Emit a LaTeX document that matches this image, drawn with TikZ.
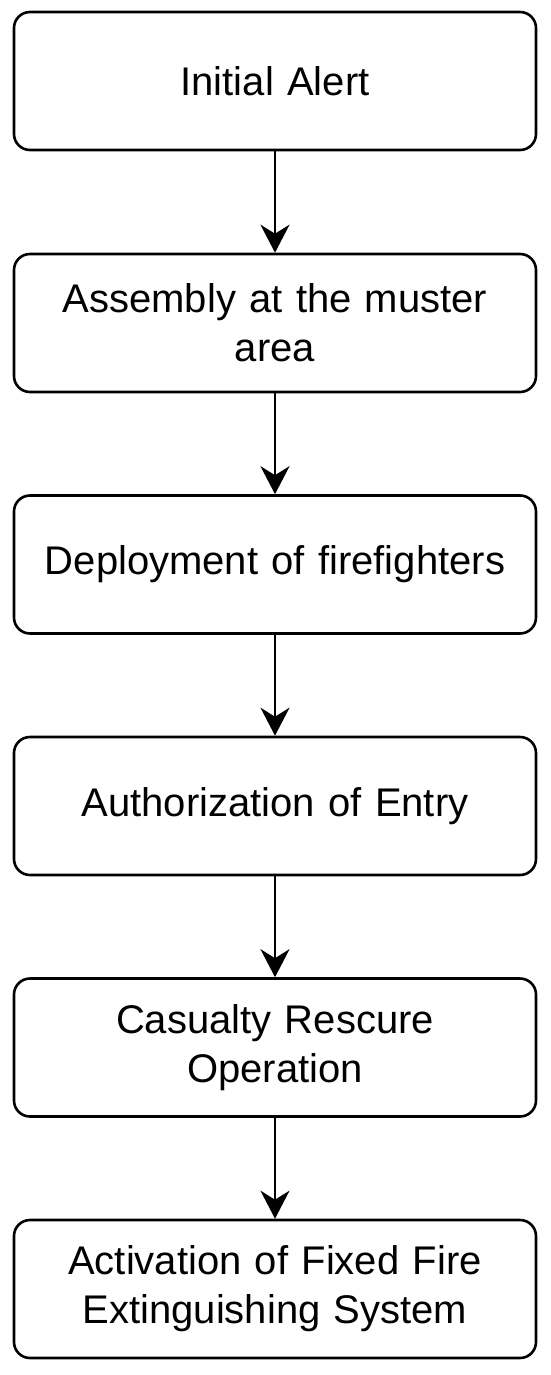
\documentclass[tikz,border=0pt]{standalone}
\usepackage{fontspec}
\setmainfont{Liberation Sans}
\usetikzlibrary{arrows.meta}
\begin{document}
\begin{tikzpicture}[x=1pt,y=-1pt,
  stepbox/.style={draw, line width=2.6pt, rounded corners=16pt, minimum width=522pt, minimum height=138pt, inner sep=0pt, align=center, text width=510pt, font=\fontsize{40}{49}\selectfont},
  flow/.style={line width=2.6pt, -{Stealth[length=28pt,width=29pt,inset=9pt]}}]
\useasboundingbox (0,0) rectangle (550,1375);
\node[stepbox] (a) at (275,81) {Initial Alert};
\node[stepbox] (b) at (275,323) {Assembly at the muster\\area};
\node[stepbox] (c) at (275,564.5) {Deployment of firefighters};
\node[stepbox] (d) at (275,806) {Authorization of Entry};
\node[stepbox] (e) at (275,1047.5) {Casualty Rescure\\Operation};
\node[stepbox] (f) at (275,1289) {Activation of Fixed Fire\\Extinguishing System};
\draw[flow] (a) -- (b);
\draw[flow] (b) -- (c);
\draw[flow] (c) -- (d);
\draw[flow] (d) -- (e);
\draw[flow] (e) -- (f);
\end{tikzpicture}
\end{document}
